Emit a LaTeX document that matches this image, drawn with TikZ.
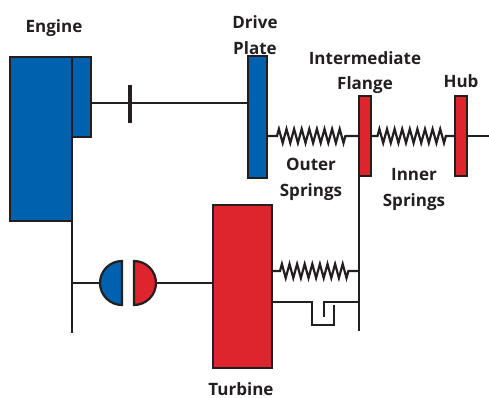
\documentclass[tikz,border=0pt]{standalone}
\usepackage{fontspec}
\setmainfont{Open Sans}
\usetikzlibrary{decorations.pathmorphing}
\definecolor{engblue}{RGB}{0,98,174}
\definecolor{turbred}{RGB}{222,36,44}
\definecolor{inkline}{RGB}{35,31,32}
\begin{document}
\begin{tikzpicture}[
x=1pt,y=-1pt,
line width=2.2pt,
color=inkline,
bluebox/.style = {draw=inkline,fill=engblue,line width=2.4pt,outer sep=0pt,inner sep=0pt},
redbox/.style = {draw=inkline,fill=turbred,line width=2.4pt,outer sep=0pt,inner sep=0pt},
lbl/.style = {font=\fontsize{17}{17}\selectfont\bfseries,text=inkline,inner sep=0pt,align=center},
spring/.style = {decorate,decoration={zigzag,segment length=7.6pt,amplitude=7pt,pre length=#1,post length=#1}}
]
  \useasboundingbox (0,0) rectangle (489,398);

  \node[bluebox,minimum width=19pt,minimum height=80pt] (flange) at (81.5,97) {};
  \node[bluebox,minimum width=62pt,minimum height=164pt] (engine) at (41,139) {};
  \node[bluebox,minimum width=19pt,minimum height=122pt] (drive) at (257.5,117) {};
  \node[redbox,minimum width=12pt,minimum height=80pt] (inter) at (365,136) {};
  \node[redbox,minimum width=12pt,minimum height=80pt] (hub) at (461,136) {};
  \node[redbox,minimum width=59pt,minimum height=163pt] (turbine) at (242.5,286.5) {};

  \coordinate (tick) at (130,103);
  \coordinate (ticktop) at (130,85);
  \coordinate (tickbot) at (130,123);
  \coordinate (shaftend) at (489,136);
  \coordinate (engbot) at (72,333);
  \coordinate (interbot) at (359,331);
  \coordinate (pumpjoin) at (72,283);
  \coordinate (pumpleft) at (99,283);
  \coordinate (turbleft) at (156,283);
  \coordinate (springa) at (272,271);
  \coordinate (springb) at (359,271);
  \coordinate (lockin) at (272,302);
  \coordinate (lockout) at (359,302);

  % shaft from engine to drive plate
  \draw (flange.east |- tick) -- (tick) -- (drive.west |- tick);
  \draw[line width=3.2pt] (ticktop) -- (tickbot);

  % springs
  \draw[spring=10pt] (drive.east) ++(0,19) -- (inter.west);
  \draw[spring=6.5pt] (inter.east) -- (hub.west);
  \draw (hub.east) -- (shaftend);
  \draw[spring=8pt] (springa) -- (springb);

  % left and right uprights
  \draw (engine.south east) -- (engbot);
  \draw (inter.south west) -- (interbot);

  % lock-up clutch
  \draw (lockin) -- (312,302) -- (312,325) -- (334,325) -- (334,305);
  \draw (324,317) -- (324,302) -- (lockout);

  % fluid coupling
  \draw (pumpjoin) -- (pumpleft);
  \draw[fill=engblue] (122,261) arc[start angle=-90,end angle=-270,radius=22] -- cycle;
  \draw[fill=turbred] (134,261) arc[start angle=-90,end angle=90,radius=22] -- cycle;
  \draw (turbleft) -- (turbine.west |- turbleft);

  \node[lbl] (lengine) at (54,28) {Engine};
  \node[lbl] (ldrive) at (255,35) {Drive\\[8.5pt]Plate};
  \node[lbl] (linter) at (365,72.5) {Intermediate\\[8.5pt]Flange};
  \node[lbl] (lhub) at (461,81) {Hub};
  \node[lbl] (louter) at (311,179.5) {Outer\\[8.5pt]Springs};
  \node[lbl] (linner) at (414,189.5) {Inner\\[8.5pt]Springs};
  \node[lbl] (lturbine) at (241,389) {Turbine};
\end{tikzpicture}
\end{document}
